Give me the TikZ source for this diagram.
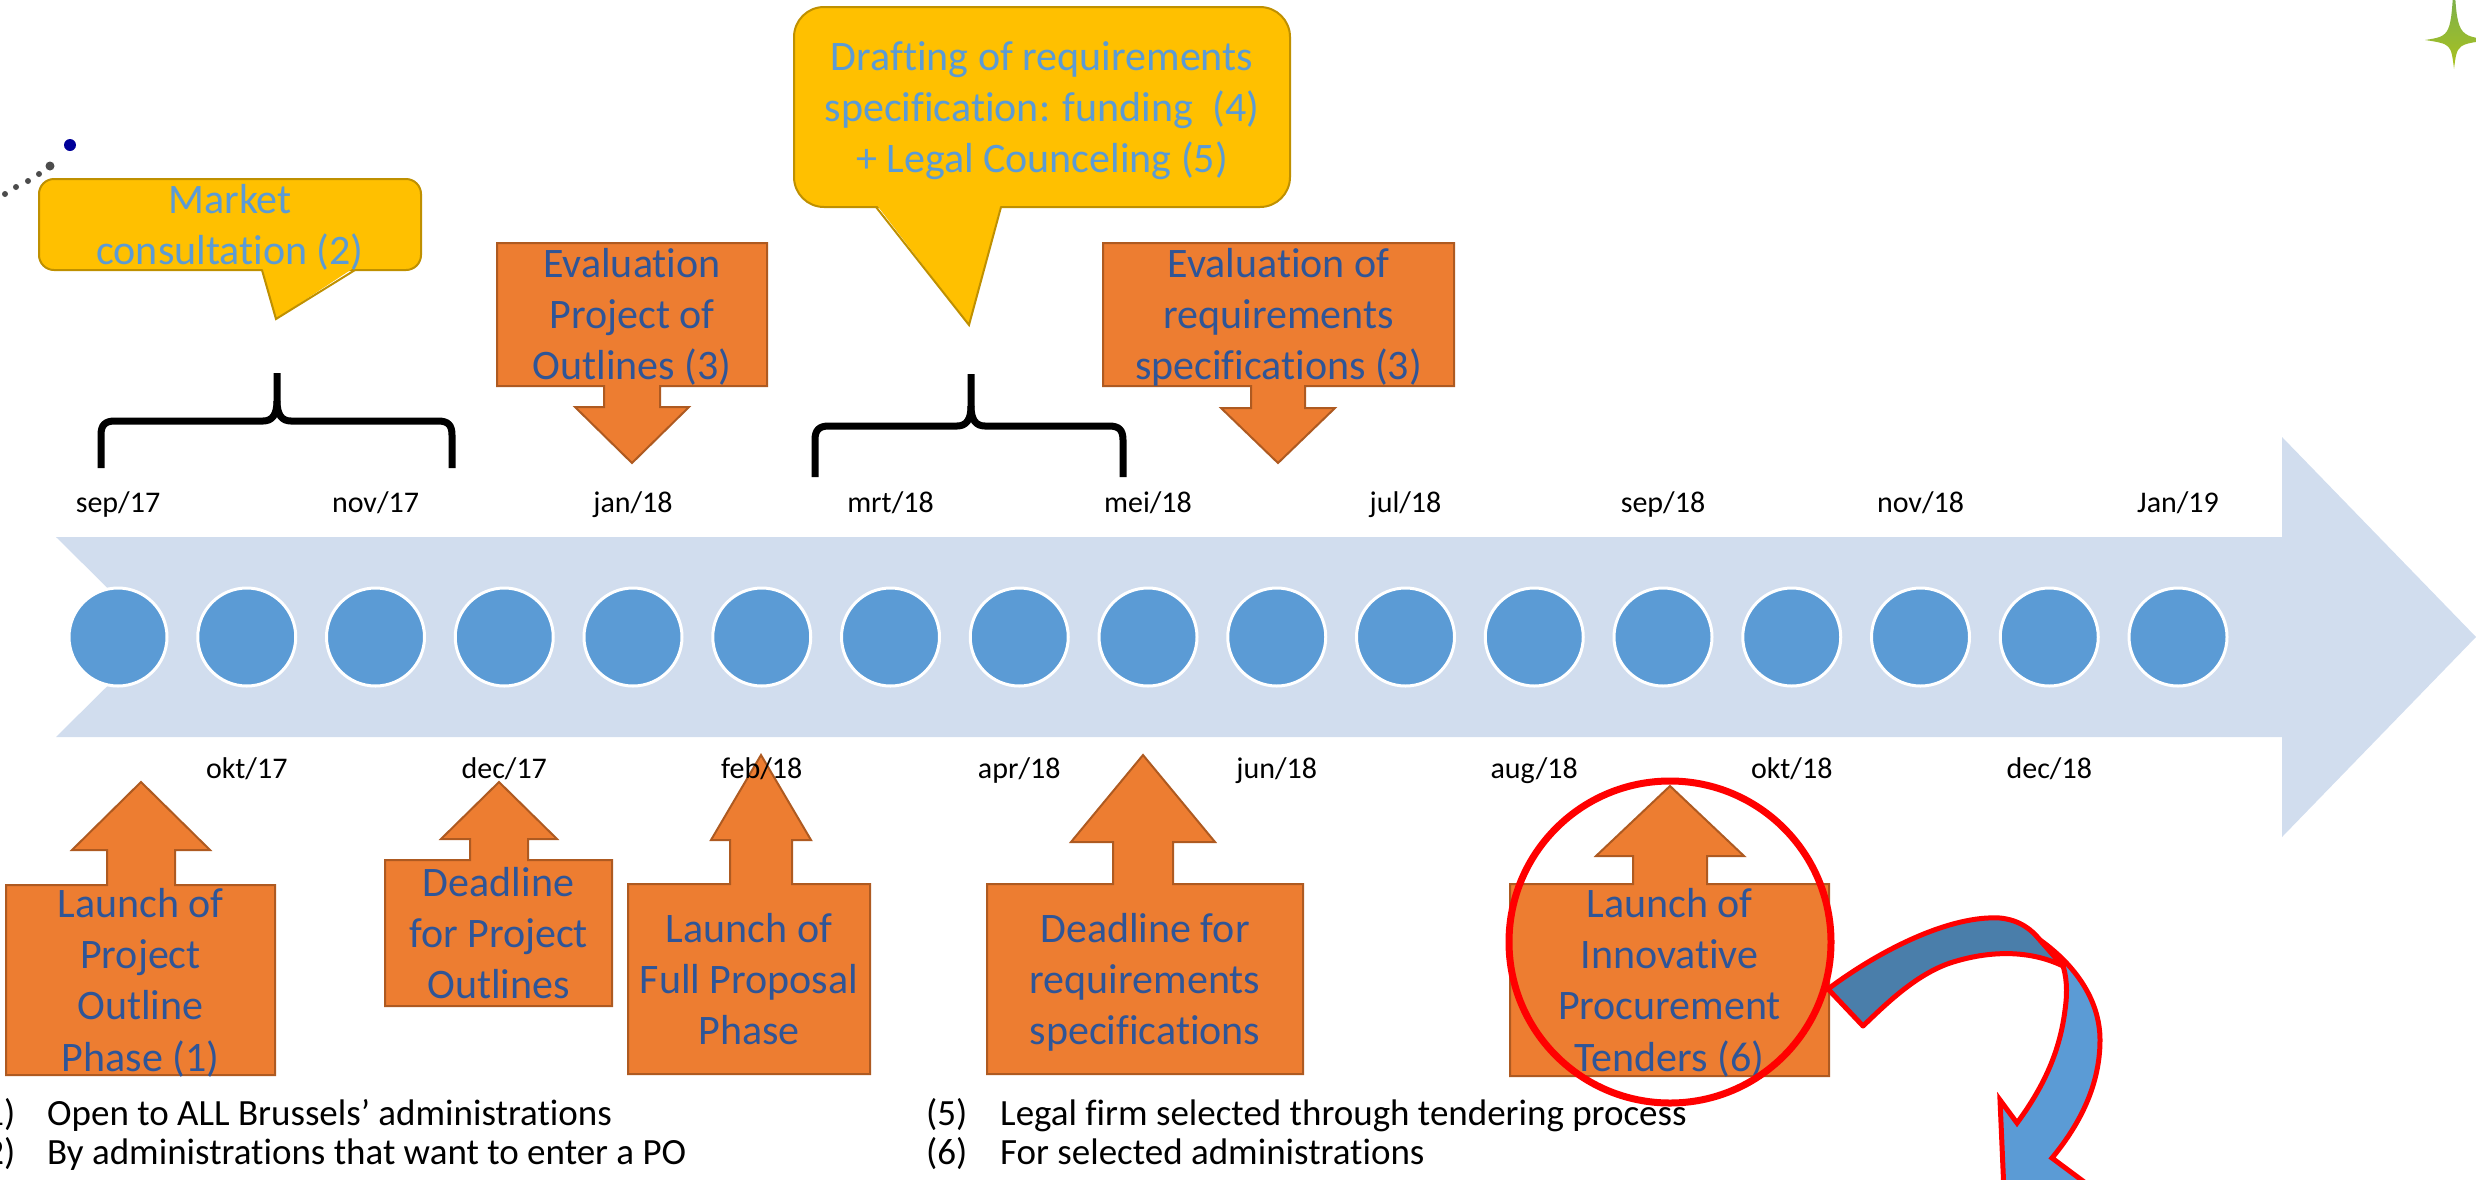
\documentclass[tikz,border=0pt]{standalone}
\usepackage{fontspec}
\setmainfont{Carlito}[Ligatures=NoCommon]

\definecolor{bandblue}{RGB}{209,221,238}
\definecolor{dotblue}{RGB}{91,155,213}
\definecolor{boxorange}{RGB}{237,125,49}
\definecolor{boxedge}{RGB}{174,90,33}
\definecolor{boxtextblue}{RGB}{47,85,151}
\definecolor{bubbleyellow}{RGB}{255,192,0}
\definecolor{bubbleedge}{RGB}{191,144,0}
\definecolor{bubbleblue}{RGB}{91,155,213}
\definecolor{turndark}{RGB}{74,126,170}
\definecolor{stargreen}{RGB}{110,170,90}
\definecolor{staryellow}{RGB}{170,194,30}

\tikzset{
  monthdot/.style={circle, fill=dotblue, draw=white, line width=3pt, minimum size=98pt, inner sep=0pt},
  datelabel/.style={font=\fontsize{30}{36}\selectfont, anchor=base, inner sep=0pt},
  arrowcallout/.style={fill=boxorange, draw=boxedge, line width=2pt},
  boxtext/.style={text=boxtextblue, font=\fontsize{42}{51.2}\selectfont, align=center, inner sep=0pt, yshift=-4pt},
  bubble/.style={fill=bubbleyellow, draw=bubbleedge, line width=2pt},
  bubbletext/.style={text=bubbleblue, font=\fontsize{42}{51.2}\selectfont, align=center, inner sep=0pt, yshift=-4pt},
  bracketline/.style={draw=black, line width=7pt},
  notetext/.style={font=\fontsize{37}{45}\selectfont, anchor=base west, inner sep=0pt},
}

% box with an arrow: x1, far edge, x2, arrow edge, arrow x, shaft half, head half, head base, tip
\newcommand{\arrowbox}[9]{%
  \draw[arrowcallout] (#1,#2) -- (#3,#2) -- (#3,#4) -- ({#5+#6},#4) -- ({#5+#6},#8)
    -- ({#5+#7},#8) -- (#5,#9) -- ({#5-#7},#8) -- ({#5-#6},#8) -- ({#5-#6},#4)
    -- (#1,#4) -- cycle;}

% brace: left, right, bottom, bar, tip x, tip top
\newcommand{\timebrace}[6]{%
  \draw[bracketline] (#1,#3) -- (#1,{#4+14}) .. controls (#1,{#4+4}) and ({#1+4},#4) .. ({#1+14},#4)
    -- ({#5-14},#4) .. controls ({#5-5},#4) and (#5,{#4-6}) .. (#5,{#4-20}) -- (#5,#6);
  \draw[bracketline] (#5,{#4-20}) .. controls (#5,{#4-6}) and ({#5+5},#4) .. ({#5+14},#4)
    -- ({#2-14},#4) .. controls ({#2-4},#4) and (#2,{#4+4}) .. (#2,{#4+14}) -- (#2,#3);}

\begin{document}
\begin{tikzpicture}[x=1pt, y=-1pt]
  \useasboundingbox (0,0) rectangle (2476,1179);
  \clip (0,0) rectangle (2476,1179);

  % corner decorations
  \fill[blue!60!black] (70,145) circle[radius=6];
  \foreach \dx/\dy/\r in {50/166/4.5, 39/174/3, 28/181/3, 16/187/3, 5/194/3}
    \fill[black!70] (\dx,\dy) circle[radius=\r];
  \shade[top color=stargreen, bottom color=staryellow]
    (2454,-25) .. controls (2457,36) .. (2492,40) .. controls (2457,44) .. (2454,69)
    .. controls (2451,44) .. (2425,40) .. controls (2451,36) .. cycle;

  % timeline band
  \fill[bandblue] (56,537) -- (2282,537) -- (2282,437) -- (2476,637) -- (2282,837)
    -- (2282,737) -- (56,737) -- (157,637) -- cycle;

  \foreach \i in {0,...,16}
    \node[monthdot] (c\i) at ({118+128.75*\i},637) {};

  % braces
  \timebrace{101}{452}{468}{421}{277}{373}
  \timebrace{815}{1123}{477}{426}{971}{374}

  % evaluations
  \arrowbox{497}{243}{767}{386}{632}{28}{57}{407}{463}
  \node[boxtext] (evalpo) at (632,314.5) {\strut Evaluation\\Project of\\Outlines (3)\strut};
  \arrowbox{1103}{243}{1454}{386}{1278}{27}{57}{408}{463}
  \node[boxtext] (evalrs) at (1278.5,314.5) {\strut Evaluation of\\requirements\\specifications (3)\strut};

  % market consultation
  \draw[bubble, rounded corners=15pt] (39,179) rectangle (421,270);
  \fill[bubbleyellow] (262,267) -- (276,319) -- (355,267) -- cycle;
  \draw[bubbleedge, line width=2pt] (262,270) -- (276,319) -- (355,270);
  \node[bubbletext] (market) at (230,224.5) {\strut Market\\consultation (2)\strut};

  % drafting
  \draw[bubble, rounded corners=30pt] (794,7) rectangle (1290,207);
  \fill[bubbleyellow] (876,204) -- (969,325) -- (1001,204) -- cycle;
  \draw[bubbleedge, line width=2pt] (876,207) -- (969,325) -- (1001,207);
  \node[bubbletext] (drafting) at (1042,107)
    {\strut Drafting of requirements\\specification: funding\ \ (4)\\+ Legal Counceling (5)\strut};

  % launches and deadlines
  \arrowbox{6}{1075}{275}{885}{141}{34}{69}{850}{782}
  \node[boxtext] (launchpo) at (140.5,980) {\strut Launch of\\Project\\Outline\\Phase (1)\strut};
  \arrowbox{385}{1006}{612}{860}{499}{29}{58}{839}{782}
  \node[boxtext] (deadpo) at (498.5,933) {\strut Deadline\\for Project\\Outlines\strut};
  \arrowbox{628}{1074}{870}{884}{761}{31}{50}{840}{755}
  \node[boxtext] (launchfp) at (749,979) {\strut Launch of\\Full Proposal\\Phase\strut};
  \arrowbox{987}{1074}{1303}{884}{1143}{30}{72}{842}{755}
  \node[boxtext] (deadrs) at (1145,979) {\strut Deadline for\\requirements\\specifications\strut};
  \arrowbox{1510}{1076}{1829}{884}{1670}{37}{74}{856}{786}
  \node[boxtext] (launchip) at (1669.5,980) {\strut Launch of\\Innovative\\Procurement\\Tenders (6)\strut};

  % highlight
  \draw[red, line width=7pt] (1670,942) circle[radius=161];
  \draw[red, line width=5pt, fill=turndark, line join=round]
    (1828,989) .. controls (1880,950) and (1950,915) .. (2000,918)
    .. controls (2020,920) and (2032,930) .. (2040,940) -- (2063,966)
    .. controls (2030,950) and (1990,950) .. (1950,963)
    .. controls (1915,975) and (1885,1005) .. (1863,1026) -- cycle;
  \draw[red, line width=5pt, fill=dotblue]
    (2040,940) .. controls (2075,965) and (2100,1000) .. (2100,1040)
    .. controls (2100,1090) and (2075,1130) .. (2052,1158) -- (2095,1190) -- (2005,1215)
    -- (2000,1100) -- (2017,1123) .. controls (2045,1085) and (2060,1050) .. (2065,1010)
    .. controls (2068,990) and (2066,975) .. (2063,966) -- cycle;

  % months
  \foreach \lab [count=\i from 0] in {sep/17, okt/17, nov/17, dec/17, jan/18, feb/18, mrt/18,
      apr/18, mei/18, jun/18, jul/18, aug/18, sep/18, okt/18, nov/18, dec/18, Jan/19} {
    \ifodd\i
      \node[datelabel] (d\i) at ({118+128.75*\i},778) {\lab};
    \else
      \node[datelabel] (d\i) at ({118+128.75*\i},512) {\lab};
    \fi
  }

  % notes
  \node[notetext] (n1) at (-26,1125) {(1)};
  \node[notetext] (t1) at (47,1125) {Open to ALL Brussels’ administrations};
  \node[notetext] (n2) at (-26,1164) {(2)};
  \node[notetext] (t2) at (47,1164) {By administrations that want to enter a PO};
  \node[notetext] (n5) at (926,1125) {(5)};
  \node[notetext] (t5) at (1000,1125) {Legal firm selected through tendering process};
  \node[notetext] (n6) at (926,1164) {(6)};
  \node[notetext] (t6) at (1000,1164) {For selected administrations};
\end{tikzpicture}
\end{document}
